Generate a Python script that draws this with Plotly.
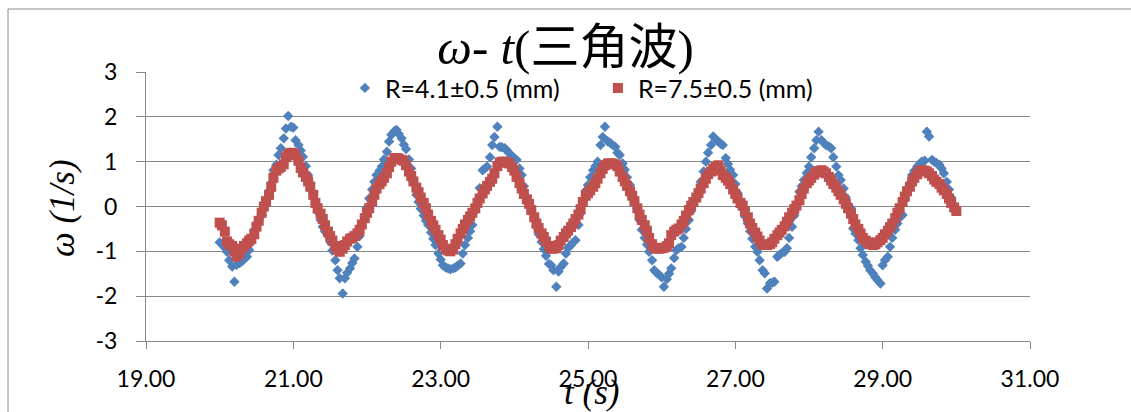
import plotly.graph_objects as go

# Sample times (s), 30 frames per second
t_s = [
    20.00, 20.03, 20.07, 20.10, 20.13, 20.17, 20.20, 20.23, 20.27, 20.30, 20.33, 20.37, 20.40, 20.43, 20.47,
    20.50, 20.53, 20.57, 20.60, 20.63, 20.67, 20.70, 20.73, 20.77, 20.80, 20.83, 20.87, 20.90, 20.93, 20.97,
    21.00, 21.03, 21.07, 21.10, 21.13, 21.17, 21.20, 21.23, 21.27, 21.30, 21.33, 21.37, 21.40, 21.43, 21.47,
    21.50, 21.53, 21.57, 21.60, 21.63, 21.67, 21.70, 21.73, 21.77, 21.80, 21.83, 21.87, 21.90, 21.93, 21.97,
    22.00, 22.03, 22.07, 22.10, 22.13, 22.17, 22.20, 22.23, 22.27, 22.30, 22.33, 22.37, 22.40, 22.43, 22.47,
    22.50, 22.53, 22.57, 22.60, 22.63, 22.67, 22.70, 22.73, 22.77, 22.80, 22.83, 22.87, 22.90, 22.93, 22.97,
    23.00, 23.03, 23.07, 23.10, 23.13, 23.17, 23.20, 23.23, 23.27, 23.30, 23.33, 23.37, 23.40, 23.43, 23.47,
    23.50, 23.53, 23.57, 23.60, 23.63, 23.67, 23.70, 23.73, 23.77, 23.80, 23.83, 23.87, 23.90, 23.93, 23.97,
    24.00, 24.03, 24.07, 24.10, 24.13, 24.17, 24.20, 24.23, 24.27, 24.30, 24.33, 24.37, 24.40, 24.43, 24.47,
    24.50, 24.53, 24.57, 24.60, 24.63, 24.67, 24.70, 24.73, 24.77, 24.80, 24.83, 24.87, 24.90, 24.93, 24.97,
    25.00, 25.03, 25.07, 25.10, 25.13, 25.17, 25.20, 25.23, 25.27, 25.30, 25.33, 25.37, 25.40, 25.43, 25.47,
    25.50, 25.53, 25.57, 25.60, 25.63, 25.67, 25.70, 25.73, 25.77, 25.80, 25.83, 25.87, 25.90, 25.93, 25.97,
    26.00, 26.03, 26.07, 26.10, 26.13, 26.17, 26.20, 26.23, 26.27, 26.30, 26.33, 26.37, 26.40, 26.43, 26.47,
    26.50, 26.53, 26.57, 26.60, 26.63, 26.67, 26.70, 26.73, 26.77, 26.80, 26.83, 26.87, 26.90, 26.93, 26.97,
    27.00, 27.03, 27.07, 27.10, 27.13, 27.17, 27.20, 27.23, 27.27, 27.30, 27.33, 27.37, 27.40, 27.43, 27.47,
    27.50, 27.53, 27.57, 27.60, 27.63, 27.67, 27.70, 27.73, 27.77, 27.80, 27.83, 27.87, 27.90, 27.93, 27.97,
    28.00, 28.03, 28.07, 28.10, 28.13, 28.17, 28.20, 28.23, 28.27, 28.30, 28.33, 28.37, 28.40, 28.43, 28.47,
    28.50, 28.53, 28.57, 28.60, 28.63, 28.67, 28.70, 28.73, 28.77, 28.80, 28.83, 28.87, 28.90, 28.93, 28.97,
    29.00, 29.03, 29.07, 29.10, 29.13, 29.17, 29.20, 29.23, 29.27, 29.30, 29.33, 29.37, 29.40, 29.43, 29.47,
    29.50, 29.53, 29.57, 29.60, 29.63, 29.67, 29.70, 29.73, 29.77, 29.80, 29.83, 29.87, 29.90, 29.93, 29.97,
    30.00,
]

# Angular velocity, R = 4.1 mm (1/s)
omega_r41 = [
    -0.80, -0.84, -0.92, -1.01, -1.20, -1.34, -1.68, -1.30, -1.26, -1.23, -1.16, -1.12, -0.97, -0.80, -0.52,
    -0.40, -0.30, -0.20, 0.00, 0.16, 0.34, 0.52, 0.81, 0.93, 1.15, 1.30, 1.52, 1.74, 2.02, 1.78,
    1.76, 1.48, 1.37, 1.25, 1.11, 0.90, 0.70, 0.52, 0.30, 0.07, -0.12, -0.30, -0.45, -0.56, -0.66,
    -0.79, -0.98, -1.20, -1.42, -1.60, -1.94, -1.60, -1.48, -1.38, -1.26, -1.16, -0.90, -0.66, -0.44, -0.22,
    -0.02, 0.18, 0.38, 0.55, 0.70, 0.80, 0.89, 1.05, 1.22, 1.45, 1.60, 1.68, 1.71, 1.62, 1.52,
    1.38, 1.28, 1.05, 0.85, 0.55, 0.26, 0.10, -0.05, -0.20, -0.32, -0.41, -0.58, -0.72, -0.86, -1.05,
    -1.18, -1.31, -1.36, -1.38, -1.40, -1.38, -1.36, -1.32, -1.27, -1.05, -0.86, -0.70, -0.55, -0.41, -0.10,
    0.15, 0.41, 0.81, 0.85, 0.89, 1.10, 1.37, 1.55, 1.78, 1.33, 1.32, 1.30, 1.25, 1.19, 1.12,
    1.08, 1.04, 0.85, 0.70, 0.45, 0.20, 0.02, -0.10, -0.25, -0.45, -0.62, -0.79, -0.95, -1.10, -1.28,
    -1.31, -1.42, -1.79, -1.45, -1.35, -1.27, -1.05, -0.92, -0.86, -0.80, -0.75, -0.41, -0.15, 0.10, 0.35,
    0.48, 0.65, 0.81, 0.90, 1.00, 1.37, 1.55, 1.78, 1.45, 1.42, 1.38, 1.33, 1.20, 1.15, 0.96,
    0.82, 0.65, 0.48, 0.30, 0.12, -0.04, -0.30, -0.52, -0.70, -0.85, -1.01, -1.20, -1.42, -1.48, -1.53,
    -1.58, -1.79, -1.62, -1.50, -1.38, -1.15, -0.97, -0.93, -0.90, -0.70, -0.50, -0.30, -0.10, 0.05, 0.20,
    0.33, 0.55, 0.78, 1.00, 1.20, 1.37, 1.56, 1.50, 1.45, 1.40, 1.37, 1.08, 0.95, 0.82, 0.70,
    0.50, 0.30, 0.12, -0.05, -0.22, -0.38, -0.55, -0.72, -0.90, -1.01, -1.20, -1.42, -1.49, -1.83, -1.71,
    -1.70, -1.68, -1.12, -1.08, -1.04, -1.01, -0.93, -0.70, -0.45, -0.20, 0.05, 0.33, 0.45, 0.59, 0.75,
    0.89, 1.10, 1.30, 1.48, 1.67, 1.48, 1.42, 1.37, 1.34, 1.30, 1.10, 0.89, 0.70, 0.59, 0.40,
    0.20, 0.05, -0.04, -0.49, -0.60, -0.75, -0.93, -1.08, -1.23, -1.32, -1.42, -1.50, -1.58, -1.64, -1.72,
    -1.31, -1.20, -1.12, -0.90, -0.70, -0.52, -0.38, -0.25, -0.19, 0.15, 0.40, 0.52, 0.70, 0.80, 0.89,
    0.95, 1.00, 1.02, 1.67, 1.56, 1.04, 1.00, 0.97, 0.93, 0.85, 0.74, 0.55, 0.38, 0.20, 0.02,
    -0.08,
]

# Angular velocity, R = 7.5 mm (1/s)
omega_r75 = [
    -0.36, -0.42, -0.56, -0.78, -0.84, -0.88, -1.00, -1.12, -1.04, -0.94, -0.88, -0.82, -0.76, -0.72, -0.62,
    -0.45, -0.32, -0.14, 0.00, 0.12, 0.26, 0.44, 0.64, 0.80, 0.85, 0.88, 0.94, 1.10, 1.17, 1.20,
    1.18, 1.14, 1.02, 0.86, 0.76, 0.66, 0.56, 0.44, 0.26, 0.08, -0.04, -0.16, -0.28, -0.42, -0.56,
    -0.66, -0.76, -0.88, -0.96, -1.01, -0.94, -0.86, -0.78, -0.72, -0.70, -0.66, -0.60, -0.52, -0.40, -0.26,
    -0.14, -0.04, 0.12, 0.26, 0.40, 0.50, 0.56, 0.64, 0.74, 0.88, 1.00, 1.08, 1.08, 1.07, 1.04,
    1.02, 0.92, 0.78, 0.68, 0.56, 0.42, 0.32, 0.20, 0.08, -0.04, -0.18, -0.32, -0.42, -0.52, -0.64,
    -0.74, -0.86, -0.94, -0.98, -1.00, -0.96, -0.84, -0.72, -0.60, -0.50, -0.40, -0.30, -0.22, -0.14, -0.04,
    0.08, 0.18, 0.29, 0.38, 0.46, 0.55, 0.62, 0.74, 0.90, 0.98, 1.00, 1.00, 0.98, 0.96, 0.88,
    0.80, 0.66, 0.52, 0.40, 0.28, 0.16, 0.06, -0.08, -0.24, -0.38, -0.48, -0.60, -0.68, -0.78, -0.88,
    -0.94, -0.94, -0.93, -0.86, -0.76, -0.68, -0.60, -0.54, -0.46, -0.38, -0.28, -0.18, -0.06, 0.10, 0.24,
    0.30, 0.36, 0.44, 0.52, 0.62, 0.74, 0.84, 0.92, 0.96, 0.96, 0.96, 0.94, 0.90, 0.78, 0.66,
    0.56, 0.46, 0.34, 0.24, 0.12, -0.04, -0.18, -0.30, -0.42, -0.54, -0.70, -0.84, -0.92, -0.94, -0.94,
    -0.93, -0.92, -0.88, -0.82, -0.64, -0.56, -0.52, -0.49, -0.40, -0.32, -0.20, -0.08, 0.02, 0.10, 0.20,
    0.30, 0.40, 0.52, 0.62, 0.72, 0.78, 0.84, 0.88, 0.92, 0.80, 0.70, 0.64, 0.58, 0.50, 0.38,
    0.28, 0.18, 0.08, 0.02, -0.10, -0.24, -0.38, -0.48, -0.58, -0.67, -0.76, -0.85, -0.86, -0.86, -0.84,
    -0.80, -0.72, -0.64, -0.58, -0.52, -0.44, -0.34, -0.24, -0.14, -0.06, 0.02, 0.14, 0.28, 0.40, 0.52,
    0.58, 0.64, 0.71, 0.76, 0.79, 0.81, 0.78, 0.74, 0.66, 0.58, 0.50, 0.42, 0.34, 0.26, 0.16,
    0.06, -0.04, -0.16, -0.28, -0.40, -0.50, -0.60, -0.70, -0.76, -0.80, -0.84, -0.86, -0.84, -0.80, -0.75,
    -0.70, -0.62, -0.54, -0.46, -0.38, -0.26, -0.14, -0.04, 0.10, 0.22, 0.34, 0.44, 0.56, 0.64, 0.72,
    0.79, 0.81, 0.80, 0.78, 0.74, 0.68, 0.60, 0.55, 0.50, 0.42, 0.36, 0.28, 0.18, 0.08, -0.02,
    -0.10,
]

series_names = ["R=4.1±0.5 (mm)", "R=7.5±0.5 (mm)"]

# Axis ticks
y_tick_vals = [-3, -2, -1, 0, 1, 2, 3]
y_tick_text = ["-3", "-2", "-1", "0", "1", "2", "3"]

assert len(t_s) == len(omega_r41) == len(omega_r75), (len(t_s), len(omega_r41), len(omega_r75))

GRID = "#868686"
BLUE = "#4F81BD"
RED = "#C0504D"
TEXT_FONT = "Lato, 'Open Sans', sans-serif"
MATH_FONT = "'Liberation Serif', 'Noto Sans CJK SC', serif"

fig = go.Figure()
fig.add_trace(go.Scatter(
    x=t_s, y=omega_r41, mode="markers", name=series_names[0],
    marker=dict(symbol="diamond", size=8, color=BLUE, line=dict(width=0)),
))
fig.add_trace(go.Scatter(
    x=t_s, y=omega_r75, mode="markers", name=series_names[1],
    marker=dict(symbol="square", size=10, color=RED, line=dict(width=0)),
))

fig.update_layout(
    width=1131, height=412,
    margin=dict(l=146, r=101, t=72, b=71),
    paper_bgcolor="white", plot_bgcolor="white",
    font=dict(family=TEXT_FONT, size=23, color="black"),
    title=dict(
        text="<i>ω</i>- <i>t</i>(三角波)",
        font=dict(family=MATH_FONT, size=49, color="black"),
        x=0.5, xref="container", xanchor="center",
        y=1 - 47 / 412, yref="container", yanchor="middle",
    ),
    showlegend=True,
    legend=dict(
        orientation="h", x=0.225, xanchor="left", y=0.94, yanchor="middle",
        font=dict(family=TEXT_FONT, size=25, color="black"),
        bgcolor="rgba(0,0,0,0)", entrywidth=208, entrywidthmode="pixels",
        itemsizing="trace",
    ),
    xaxis=dict(
        range=[19, 31], tick0=19, dtick=2, tickformat=".2f",
        showgrid=False, zeroline=False,
        showline=True, linecolor=GRID, linewidth=1,
        ticks="outside", ticklen=7, tickcolor=GRID, tickwidth=1,
        ticklabelstandoff=10,
        tickfont=dict(family=TEXT_FONT, size=23, color="black"),
    ),
    yaxis=dict(
        range=[-3, 3], tickmode="array", tickvals=y_tick_vals, ticktext=y_tick_text,
        showgrid=True, gridcolor=GRID, gridwidth=1.3, zeroline=False,
        showline=True, linecolor=GRID, linewidth=1,
        ticks="outside", ticklen=9, tickcolor=GRID, tickwidth=1,
        ticklabelstandoff=14,
        tickfont=dict(family=TEXT_FONT, size=23, color="black"),
    ),
    annotations=[
        dict(text="<i>ω (1/s)</i>", xref="paper", yref="paper",
             x=(62 - 146) / 884, y=(341 - 208) / 269, textangle=-90,
             showarrow=False, xanchor="center", yanchor="middle",
             font=dict(family=MATH_FONT, size=35, color="black")),
        dict(text="<i>t (s)</i>", xref="paper", yref="paper",
             x=(591 - 146) / 884, y=(341 - 392) / 269,
             showarrow=False, xanchor="center", yanchor="middle",
             font=dict(family=MATH_FONT, size=35, color="black")),
    ],
    shapes=[
        dict(type="rect", xref="paper", yref="paper",
             x0=(8 - 146) / 884, x1=(1140 - 146) / 884,
             y0=(341 - 420) / 269, y1=(341 - 9) / 269,
             line=dict(color="#8c8c8c", width=1), fillcolor="rgba(0,0,0,0)",
             layer="below"),
    ],
)

fig.write_html("out.html")
